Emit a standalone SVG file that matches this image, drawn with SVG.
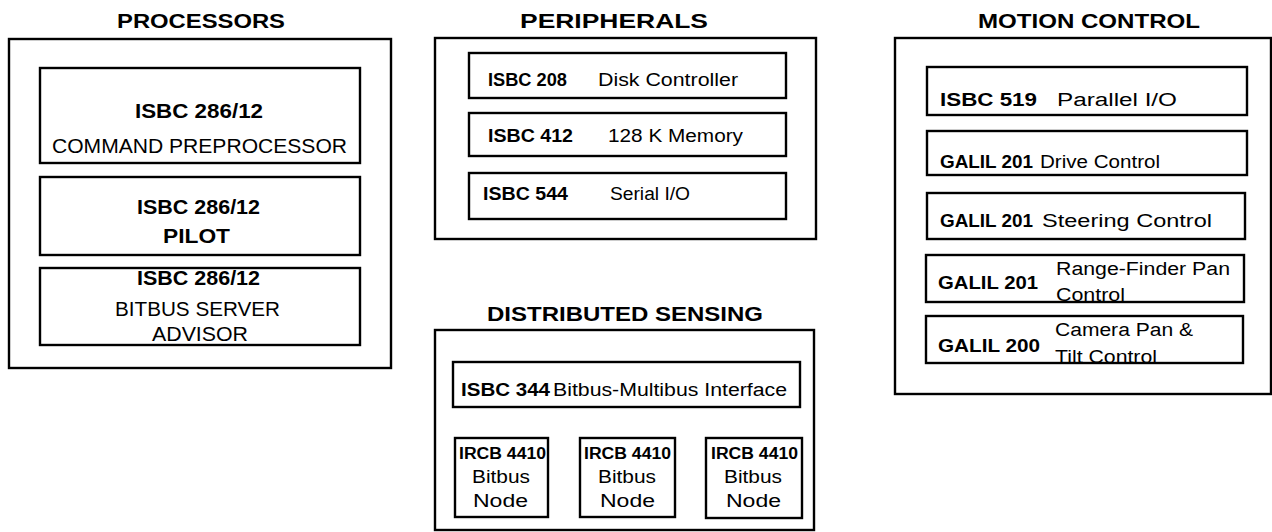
<svg xmlns="http://www.w3.org/2000/svg" width="1272" height="532" viewBox="0 0 1272 532">
<style>
rect{fill:none;stroke:#000;stroke-width:2.4}
text{font-family:"Liberation Sans",Arial,sans-serif;fill:#000}
.t{font-size:20px;font-weight:bold}
.b{font-weight:bold}
.p{font-size:20px}
.m{font-size:18px}
.n{font-size:16px}
</style>
<rect x="0" y="0" width="1272" height="532" style="fill:#fff;stroke:none"/>
<g id="processors">
<text class="t" x="117" y="28" textLength="168" lengthAdjust="spacingAndGlyphs">PROCESSORS</text>
<rect x="9" y="39" width="382" height="329"/>
<g id="proc-command">
<rect x="40" y="68" width="320" height="95"/>
<text class="p b" x="135" y="118" textLength="128" lengthAdjust="spacingAndGlyphs">ISBC  286/12</text>
<text class="p" x="52" y="153" textLength="295" lengthAdjust="spacingAndGlyphs">COMMAND PREPROCESSOR</text>
</g>
<g id="proc-pilot">
<rect x="40" y="177" width="320" height="78"/>
<text class="p b" x="137" y="214" textLength="123" lengthAdjust="spacingAndGlyphs">ISBC 286/12</text>
<text class="p b" x="163" y="243" textLength="67" lengthAdjust="spacingAndGlyphs">PILOT</text>
</g>
<g id="proc-advisor">
<rect x="40" y="268" width="320" height="77"/>
<text class="p b" x="137" y="285" textLength="123" lengthAdjust="spacingAndGlyphs">ISBC 286/12</text>
<text class="p" x="115" y="316" textLength="165" lengthAdjust="spacingAndGlyphs">BITBUS SERVER</text>
<text class="p" x="152" y="341" textLength="96" lengthAdjust="spacingAndGlyphs">ADVISOR</text>
</g>
</g>
<g id="peripherals">
<text class="t" x="520" y="28" textLength="188" lengthAdjust="spacingAndGlyphs">PERIPHERALS</text>
<rect x="435" y="38" width="381" height="201"/>
<g id="per-208">
<rect x="469" y="53" width="317" height="45"/>
<text class="m b" x="488" y="86" textLength="79" lengthAdjust="spacingAndGlyphs">ISBC 208</text>
<text class="m" x="598" y="86" textLength="140" lengthAdjust="spacingAndGlyphs">Disk Controller</text>
</g>
<g id="per-412">
<rect x="469" y="113" width="317" height="43"/>
<text class="m b" x="488" y="142" textLength="85" lengthAdjust="spacingAndGlyphs">ISBC 412</text>
<text class="m" x="608" y="142" textLength="135" lengthAdjust="spacingAndGlyphs">128 K Memory</text>
</g>
<g id="per-544">
<rect x="469" y="173" width="317" height="46"/>
<text class="m b" x="483" y="200" textLength="85" lengthAdjust="spacingAndGlyphs">ISBC 544</text>
<text class="m" x="610" y="200" textLength="80" lengthAdjust="spacingAndGlyphs">Serial I/O</text>
</g>
</g>
<g id="motion">
<text class="t" x="978" y="28" textLength="222" lengthAdjust="spacingAndGlyphs">MOTION CONTROL</text>
<rect x="895" y="38" width="376" height="356"/>
<g id="mot-519">
<rect x="927" y="67" width="320" height="48"/>
<text class="m b" x="940" y="106" textLength="97" lengthAdjust="spacingAndGlyphs">ISBC  519</text>
<text class="m" x="1057" y="106" textLength="120" lengthAdjust="spacingAndGlyphs">Parallel I/O</text>
</g>
<g id="mot-drive">
<rect x="927" y="131" width="320" height="44"/>
<text class="m b" x="940" y="168" textLength="93" lengthAdjust="spacingAndGlyphs">GALIL 201</text>
<text class="m" x="1040" y="168" textLength="120" lengthAdjust="spacingAndGlyphs">Drive Control</text>
</g>
<g id="mot-steer">
<rect x="927" y="193" width="318" height="46"/>
<text class="m b" x="940" y="227" textLength="93" lengthAdjust="spacingAndGlyphs">GALIL 201</text>
<text class="m" x="1042" y="227" textLength="170" lengthAdjust="spacingAndGlyphs">Steering Control</text>
</g>
<g id="mot-range">
<rect x="926" y="255" width="318" height="47"/>
<text class="m b" x="938" y="289" textLength="100" lengthAdjust="spacingAndGlyphs">GALIL 201</text>
<text class="m" x="1056" y="275" textLength="174" lengthAdjust="spacingAndGlyphs">Range-Finder Pan</text>
<text class="m" x="1056" y="301" textLength="69" lengthAdjust="spacingAndGlyphs">Control</text>
</g>
<g id="mot-camera">
<rect x="926" y="316" width="317" height="47"/>
<text class="m b" x="938" y="352" textLength="102" lengthAdjust="spacingAndGlyphs">GALIL 200</text>
<text class="m" x="1055" y="336" textLength="138" lengthAdjust="spacingAndGlyphs">Camera Pan &amp;</text>
<text class="m" x="1055" y="363" textLength="102" lengthAdjust="spacingAndGlyphs">Tilt Control</text>
</g>
</g>
<g id="sensing">
<text class="t" x="487" y="321" textLength="276" lengthAdjust="spacingAndGlyphs">DISTRIBUTED SENSING</text>
<rect x="435" y="330" width="379" height="200"/>
<g id="sen-344">
<rect x="453" y="362" width="347" height="45"/>
<text class="m b" x="461" y="396" textLength="89" lengthAdjust="spacingAndGlyphs">ISBC 344</text>
<text class="m" x="553" y="396" textLength="234" lengthAdjust="spacingAndGlyphs">Bitbus-Multibus Interface</text>
</g>
<g id="sen-node1">
<rect x="455" y="438" width="93" height="79"/>
<text class="n b" x="459" y="459" textLength="87" lengthAdjust="spacingAndGlyphs">IRCB 4410</text>
<text class="m" x="472" y="483" textLength="58" lengthAdjust="spacingAndGlyphs">Bitbus</text>
<text class="m" x="473" y="507" textLength="55" lengthAdjust="spacingAndGlyphs">Node</text>
</g>
<g id="sen-node2">
<rect x="580" y="438" width="95" height="79"/>
<text class="n b" x="584" y="459" textLength="87" lengthAdjust="spacingAndGlyphs">IRCB 4410</text>
<text class="m" x="598" y="483" textLength="58" lengthAdjust="spacingAndGlyphs">Bitbus</text>
<text class="m" x="600" y="507" textLength="55" lengthAdjust="spacingAndGlyphs">Node</text>
</g>
<g id="sen-node3">
<rect x="706" y="438" width="96" height="80"/>
<text class="n b" x="711" y="459" textLength="87" lengthAdjust="spacingAndGlyphs">IRCB 4410</text>
<text class="m" x="724" y="483" textLength="58" lengthAdjust="spacingAndGlyphs">Bitbus</text>
<text class="m" x="726" y="507" textLength="55" lengthAdjust="spacingAndGlyphs">Node</text>
</g>
</g>
<g id="connectors"/>
</svg>
